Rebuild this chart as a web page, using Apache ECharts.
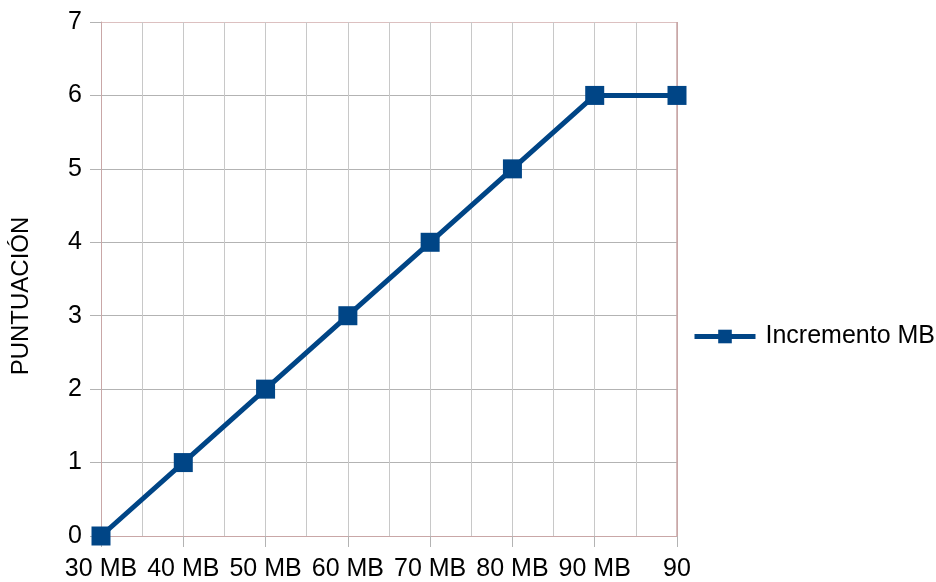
<!DOCTYPE html>
<html>
<head>
<meta charset="utf-8">
<script src="https://cdn.jsdelivr.net/npm/echarts@6/dist/echarts.min.js"></script>
<style>
html,body{margin:0;padding:0;background:#fff;}
#chart{width:936px;height:582px;}
</style>
</head>
<body>
<div id="chart"></div>
<script>
const categories = ['30 MB', '40 MB', '50 MB', '60 MB', '70 MB', '80 MB', '90 MB', '90'];
const seriesName = 'Incremento MB';
const values = [0, 1, 2, 3, 4, 5, 6, 6];
const yAxisName = 'PUNTUACIÓN';

const FONT = '"Liberation Sans", Arial, sans-serif';
const GRID = '#b3b3b3';
const BORDER = '#c9a7a7';
const BLUE = '#004586';

const chart = echarts.init(document.getElementById('chart'), null, {renderer: 'canvas'});

const yLineColors = [];
for (let i = 0; i <= 7; i++) yLineColors.push(i === 7 ? '#dcc0c0' : GRID);
const xLineColors = [];
for (let i = 0; i <= 14; i++) xLineColors.push(i === 0 || i === 14 ? BORDER : '#c8c8c8');

chart.setOption({
  backgroundColor: '#ffffff',
  animation: false,
  textStyle: {fontFamily: FONT},
  grid: {left: 101, top: 22, right: 259, bottom: 46, show: false},
  legend: {
    show: true,
    orient: 'vertical',
    left: 692,
    top: 324,
    padding: 0,
    itemWidth: 61,
    itemHeight: 17,
    data: [seriesName],
    lineStyle: {width: 5, color: BLUE},
    itemStyle: {color: BLUE},
    textStyle: {fontFamily: FONT, fontSize: 25, color: '#000', padding: [0, 0, 0, 5]}
  },
  xAxis: [{
    type: 'category',
    data: categories,
    boundaryGap: false,
    axisLine: {show: true, lineStyle: {color: BORDER, width: 1}},
    axisTick: {show: true, length: 11, lineStyle: {color: GRID}},
    axisLabel: {fontFamily: FONT, fontSize: 25, color: '#000', margin: 21, interval: 0},
    splitLine: {show: false}
  }, {
    type: 'value',
    min: 0, max: 7, interval: 0.5,
    show: true,
    position: 'bottom',
    axisLine: {show: false},
    axisTick: {show: false},
    axisLabel: {show: false},
    splitLine: {show: true, lineStyle: {color: xLineColors, width: 1}}
  }],
  yAxis: {
    type: 'value',
    min: 0, max: 7, interval: 1,
    name: yAxisName,
    nameLocation: 'middle',
    nameGap: 68,
    nameTextStyle: {fontFamily: FONT, fontSize: 24, color: '#000', padding: [0, 34, 0, 0]},
    axisLine: {show: true, lineStyle: {color: BORDER, width: 1}},
    axisTick: {show: true, length: 11, lineStyle: {color: GRID}},
    axisLabel: {fontFamily: FONT, fontSize: 25, color: '#000', margin: 19},
    splitLine: {show: true, lineStyle: {color: yLineColors, width: 1}}
  },
  series: [{
    name: seriesName,
    type: 'line',
    xAxisIndex: 0,
    data: values,
    symbol: 'rect',
    symbolSize: 19,
    lineStyle: {color: BLUE, width: 5},
    itemStyle: {color: BLUE},
    z: 5
  }],
  graphic: [{
    type: 'rect',
    shape: {x: 677, y: 22, width: 0, height: 514},
    style: {stroke: BORDER, lineWidth: 1, fill: null},
    z: 4, silent: true
  }]
});
</script>
</body>
</html>
